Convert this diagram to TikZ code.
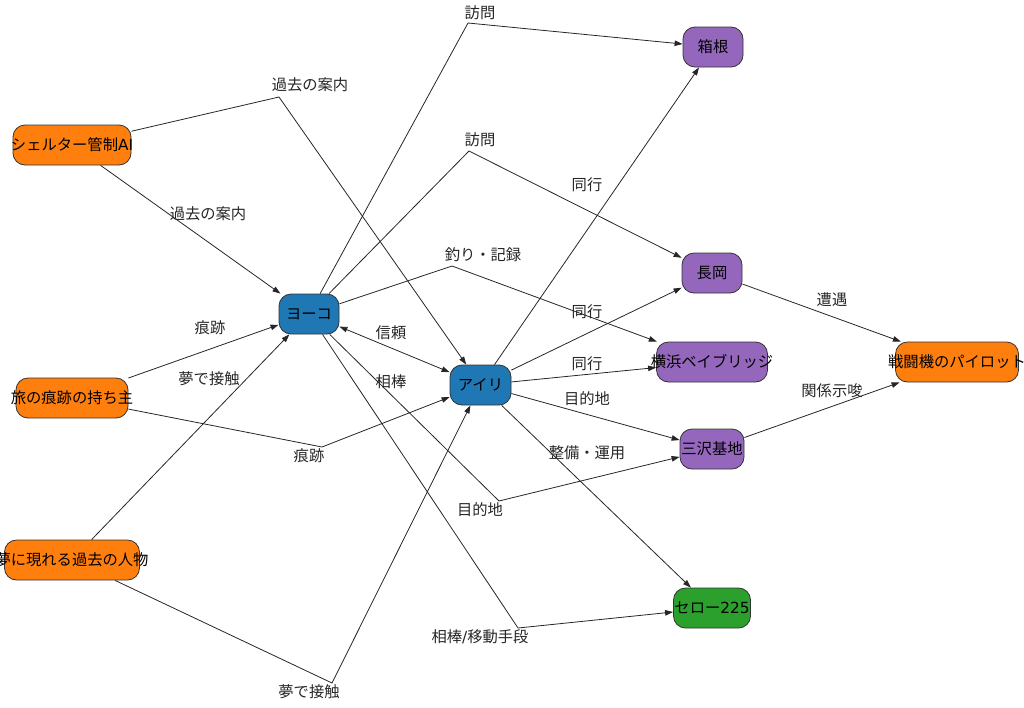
\documentclass[tikz,border=0pt]{standalone}
\usepackage{fontspec}
\setmainfont{Noto Sans CJK JP}
\newfontfamily\lat{DejaVu Sans}
\usetikzlibrary{arrows.meta}
\definecolor{cor}{HTML}{FF7F0E}
\definecolor{cbl}{HTML}{1F77B4}
\definecolor{cpu}{HTML}{9467BD}
\definecolor{cgr}{HTML}{2CA02C}
\newcommand{\ctxt}[1]{\makebox[0pt][c]{#1}}
\tikzset{
  ent/.style={draw=black!80, line width=0.8pt, rounded corners=12pt, minimum height=40pt, inner sep=0pt, font=\fontsize{15.3}{17}\selectfont, text=black},
  orangebox/.style={ent, fill=cor},
  bluebox/.style={ent, fill=cbl},
  purplebox/.style={ent, fill=cpu},
  greenbox/.style={ent, fill=cgr},
  edge/.style={draw=black!85, line width=0.8pt, -{Triangle[length=8pt,width=5.5pt]}},
  lbl/.style={font=\fontsize{15.3}{17}\selectfont, text=black!85, inner sep=1pt}
}
\begin{document}
\begin{tikzpicture}[x=1pt,y=-1pt]
\useasboundingbox (0,0) rectangle (1024,707);
% nodes
\node[orangebox, minimum width=118pt] (shelter) at (72,145) {\ctxt{シェルター管制{\lat AI}}};
\node[bluebox, minimum width=60pt] (yoko) at (309,314) {\ctxt{ヨーコ}};
\node[bluebox, minimum width=61pt] (airi) at (480.5,385) {\ctxt{アイリ}};
\node[orangebox, minimum width=112pt] (trace) at (72,398) {\ctxt{旅の痕跡の持ち主}};
\node[orangebox, minimum width=135pt] (dream) at (72,560) {\ctxt{夢に現れる過去の人物}};
\node[purplebox, minimum width=60pt] (hakone) at (713,47) {\ctxt{箱根}};
\node[purplebox, minimum width=60pt] (nagaoka) at (712,273) {\ctxt{長岡}};
\node[purplebox, minimum width=111pt] (bay) at (712,362) {\ctxt{横浜ベイブリッジ}};
\node[purplebox, minimum width=64pt] (misawa) at (712,449) {\ctxt{三沢基地}};
\node[greenbox, minimum width=77pt] (serow) at (712,608) {\ctxt{セロー{\lat 225}}};
\node[orangebox, minimum width=123pt] (pilot) at (957,362) {\ctxt{戦闘機のパイロット}};
% bend points
\coordinate (b1) at (279,97);
\coordinate (b2) at (468,23);
\coordinate (b3) at (469,151);
\coordinate (b4) at (452,266);
\coordinate (b5) at (322,447);
\coordinate (b6) at (332,683);
\coordinate (b7) at (499,501);
\coordinate (b8) at (518,628);
% edges
\draw[edge] (shelter) -- (b1) -- (airi);
\draw[edge] (shelter) -- (yoko);
\draw[edge] (yoko) -- (b2) -- (hakone);
\draw[edge] (yoko) -- (b3) -- (nagaoka);
\draw[edge] (yoko) -- (b4) -- (bay);
\draw[draw=black!85, line width=0.8pt, {Triangle[length=8pt,width=5.5pt]}-{Triangle[length=8pt,width=5.5pt]}] (yoko) -- (airi);
\draw[edge] (yoko) -- (b7) -- (misawa);
\draw[edge] (yoko) -- (b8) -- (serow);
\draw[edge] (airi) -- (hakone);
\draw[edge] (airi) -- (nagaoka);
\draw[edge] (airi) -- (bay);
\draw[edge] (airi) -- (misawa);
\draw[edge] (airi) -- (serow);
\draw[edge] (trace) -- (yoko);
\draw[edge] (trace) -- (b5) -- (airi);
\draw[edge] (dream) -- (yoko);
\draw[edge] (dream) -- (b6) -- (airi);
\draw[edge] (nagaoka) -- (pilot);
\draw[edge] (misawa) -- (pilot);
% labels
\node[lbl] (l1) at (310,85) {過去の案内};
\node[lbl] (l2) at (208,214) {過去の案内};
\node[lbl] (l3) at (480,13) {訪問};
\node[lbl] (l4) at (480,140) {訪問};
\node[lbl] (l5) at (483,255) {釣り・記録};
\node[lbl] (l6) at (391,333) {信頼};
\node[lbl] (l7) at (391,382) {相棒};
\node[lbl] (l8) at (480,510) {目的地};
\node[lbl] (l9) at (480,637) {相棒{\lat /}移動手段};
\node[lbl] (l10) at (587,185) {同行};
\node[lbl] (l11) at (587,312) {同行};
\node[lbl] (l12) at (587,364) {同行};
\node[lbl] (l13) at (587,399) {目的地};
\node[lbl] (l14) at (587,453) {整備・運用};
\node[lbl] (l15) at (210,328) {痕跡};
\node[lbl] (l16) at (309,456) {痕跡};
\node[lbl] (l17) at (209,379) {夢で接触};
\node[lbl] (l18) at (309,692) {夢で接触};
\node[lbl] (l19) at (832,300) {遭遇};
\node[lbl] (l20) at (832,391) {関係示唆};
\end{tikzpicture}
\end{document}
